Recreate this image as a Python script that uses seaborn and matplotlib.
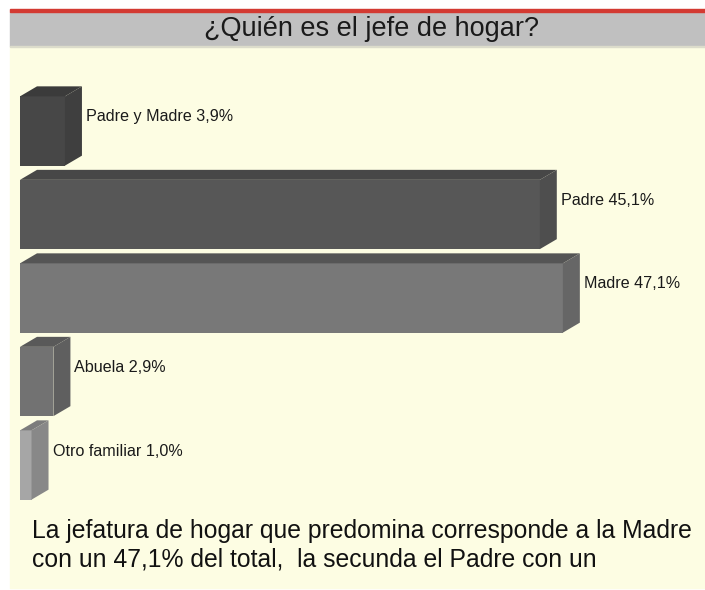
import matplotlib.pyplot as plt
import seaborn as sns
import pandas as pd
from matplotlib.patches import Rectangle, Polygon

# Data
categories = ["Padre y Madre", "Padre", "Madre", "Abuela", "Otro familiar"]
values = [3.9, 45.1, 47.1, 2.9, 1.0]
labels = ["Padre y Madre 3,9%", "Padre 45,1%", "Madre 47,1%", "Abuela 2,9%", "Otro familiar 1,0%"]

front_colors = ["#474747", "#575757", "#787878", "#727272", "#a6a6a6"]
top_colors = ["#3b3b3b", "#474747", "#555555", "#595959", "#7c7c7c"]
side_colors = ["#3f3f3f", "#4e4e4e", "#666666", "#5f5f5f", "#888888"]

df = pd.DataFrame({"cat": categories, "val": values})

sns.set_theme(style="white")
plt.rcParams["font.family"] = ["Liberation Sans", "DejaVu Sans"]

W, H = 705, 590
fig = plt.figure(figsize=(W / 100, H / 100), dpi=100)
fig.patch.set_facecolor("white")


# background panels (pixel -> figure fraction)
def frac_rect(x0, y0, x1, y1, color):
    fig.patches.append(Rectangle((x0 / W, 1 - y1 / H), (x1 - x0) / W, (y1 - y0) / H,
                                 transform=fig.transFigure, color=color, zorder=-10))


frac_rect(10, 46, 705, 588, "#fdfde3")
frac_rect(10, 12, 705, 46, "#c0c0c0")
frac_rect(10, 9, 705, 12, "#d33a32")
frac_rect(10, 46, 705, 47, "#dcdccb")


def fit_text(t, target_px):
    # shrink/grow font so the text spans about the same width as in the reference
    r = fig.canvas.get_renderer()
    w = t.get_window_extent(r).width
    t.set_fontsize(t.get_fontsize() * target_px / w)


title = fig.text(372 / W, 1 - 29 / H, "¿Quién es el jefe de hogar?", ha="center", va="center",
                 fontsize=19, color="#1a1a1a")
fit_text(title, 335)

ax = fig.add_axes([20 / W, 1 - 506.75 / H, 680 / W, 417.5 / H])
ax.set_facecolor("none")
ax.set_zorder(2)
sns.barplot(data=df, x="val", y="cat", hue="cat", palette=front_colors, legend=False,
            orient="h", width=0.83, ax=ax, saturation=1, linewidth=0)
ax.set_xlim(0, 59)
ax.set_ylim(4.5, -0.5)
ax.axis("off")

fig.canvas.draw()
trans = ax.transData
inv = trans.inverted()
dx, dy = 17, 10  # depth in pixels
for p, tc, sc, lab in zip(list(ax.patches), top_colors, side_colors, labels):
    (xa, ya), (xb, yb) = trans.transform([(p.get_x(), p.get_y()),
                                          (p.get_x() + p.get_width(), p.get_y() + p.get_height())])
    left, right = min(xa, xb), max(xa, xb)
    bot, top = min(ya, yb), max(ya, yb)
    top_face = [(left, top), (right, top), (right + dx, top + dy), (left + dx, top + dy)]
    side_face = [(right, bot), (right, top), (right + dx, top + dy), (right + dx, bot + dy)]
    ax.add_patch(Polygon(inv.transform(top_face), closed=True, color=tc, lw=0, clip_on=False))
    ax.add_patch(Polygon(inv.transform(side_face), closed=True, color=sc, lw=0, clip_on=False))
    cx, cy = inv.transform([(right + dx + 4, (bot + top) / 2 + 14)])[0]
    t = ax.text(cx, cy, lab, ha="left", va="center", fontsize=11, color="#1a1a1a")
    if lab.startswith("Padre y"):
        fit_text(t, 147)
        lab_size = t.get_fontsize()
for t in ax.texts:
    t.set_fontsize(lab_size)

l1 = fig.text(32 / W, 1 - 531 / H, "La jefatura de hogar que predomina corresponde a la Madre",
              ha="left", va="center", fontsize=19.5, color="#111111")
fit_text(l1, 665)
l2 = fig.text(32 / W, 1 - 560 / H, "con un 47,1% del total,  la secunda el Padre con un",
              ha="left", va="center", fontsize=l1.get_fontsize(), color="#111111")

fig.savefig("out.png", dpi=100)
